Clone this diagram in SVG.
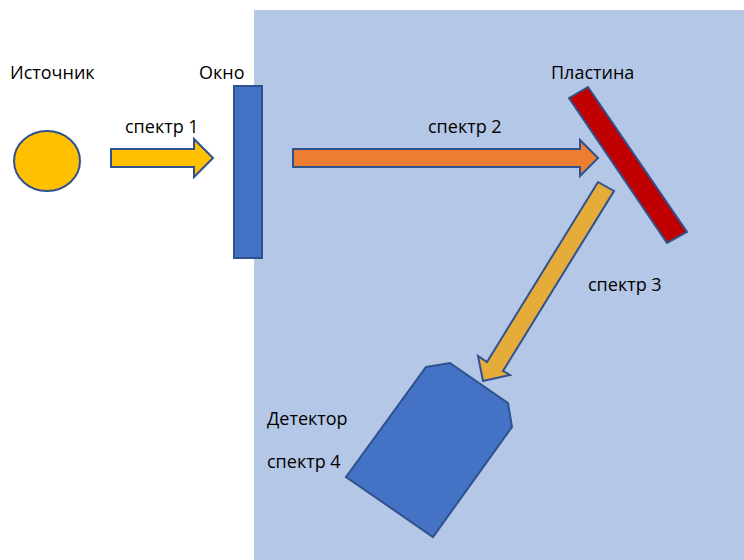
<svg xmlns="http://www.w3.org/2000/svg" width="744" height="560" viewBox="0 0 744 560">
<style>
.lbl{font-family:"Open Sans","Noto Sans","Liberation Sans",sans-serif;font-size:18px;fill:#000}
.sh{stroke:#2F528F;stroke-width:2;stroke-linejoin:miter}
</style>
<rect x="0" y="0" width="744" height="560" fill="#fff"/>
<rect id="chamber" x="254" y="10" width="490" height="550" fill="#B4C7E7"/>
<g id="source">
<ellipse class="sh" cx="47" cy="161" rx="33" ry="30" fill="#FFC000"/>
<text class="lbl" x="10" y="79">Источник</text>
</g>
<g id="window">
<rect class="sh" x="234" y="86" width="28" height="172" fill="#4472C4"/>
<text class="lbl" x="199" y="79">Окно</text>
</g>
<g id="plate">
<polygon class="sh" points="569,98 588,87 687,232 667,243" fill="#C00000"/>
<text class="lbl" x="551" y="79">Пластина</text>
</g>
<g id="detector">
<polygon class="sh" points="426,367 450,363 508,403 512,427 433,537 346,477" fill="#4472C4"/>
<text class="lbl" x="267" y="425">Детектор</text>
<text class="lbl" x="267" y="468">спектр 4</text>
</g>
<g id="connectors">
<g id="arrow1">
<polygon class="sh" points="111,149 194,149 194,139 213,158 194,177 194,167 111,167" fill="#FFC000"/>
<text class="lbl" x="125" y="133">спектр 1</text>
</g>
<g id="arrow2">
<polygon class="sh" points="293,149 580,149 580,140 598,158 580,176 580,167 293,167" fill="#ED7D31"/>
<text class="lbl" x="428" y="133">спектр 2</text>
</g>
<g id="arrow3">
<polygon class="sh" points="598,182 614,191 503,371 510,375 483,381 478,356 487,362" fill="#E6AC3A"/>
<text class="lbl" x="588" y="291">спектр 3</text>
</g>
</g>
</svg>
